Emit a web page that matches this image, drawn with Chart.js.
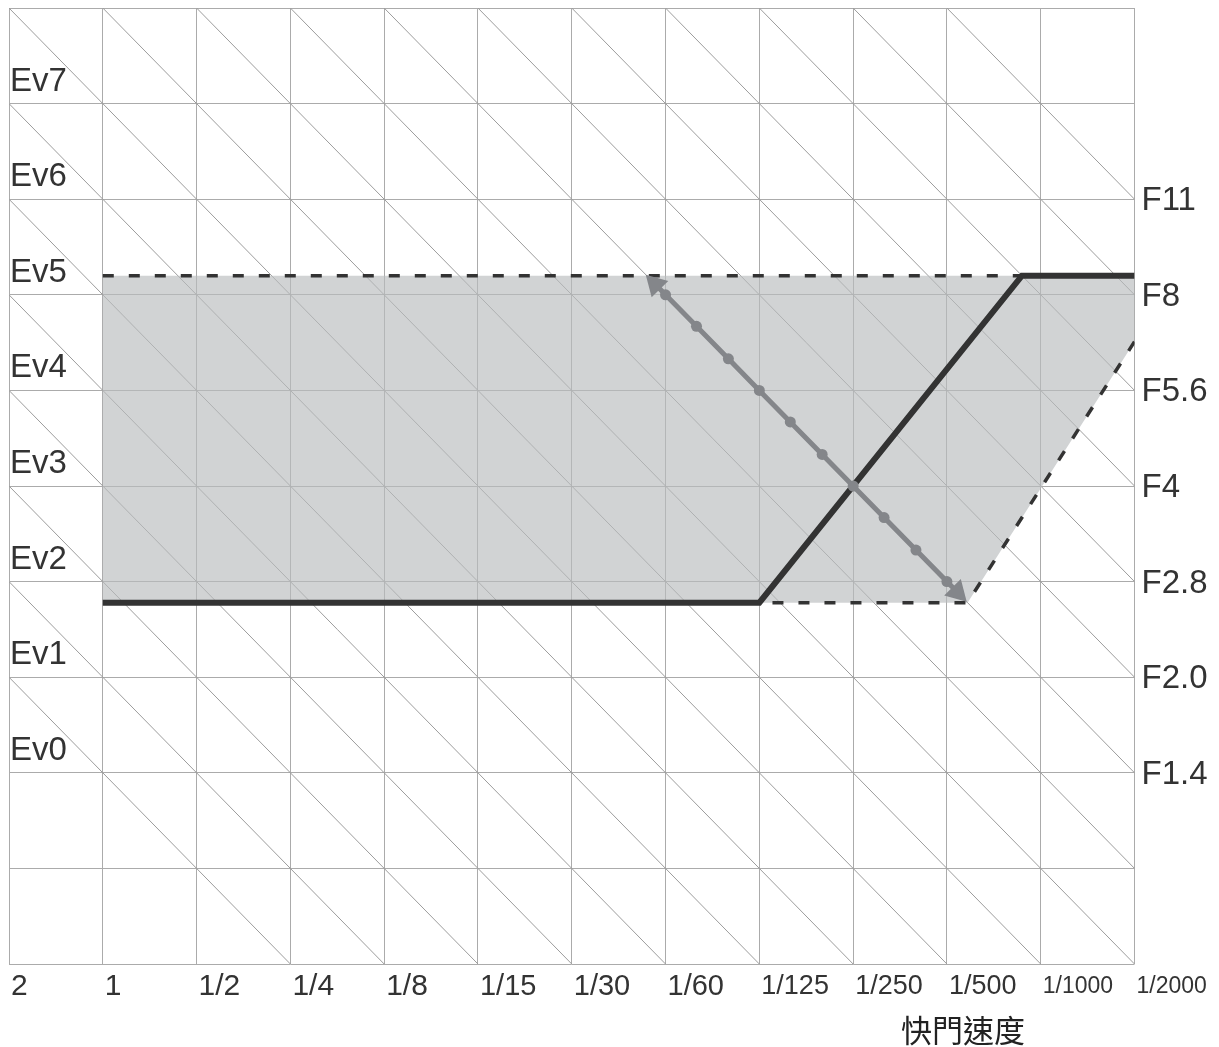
<!DOCTYPE html>
<html>
<head>
<meta charset="utf-8">
<script src="https://cdn.jsdelivr.net/npm/chart.js@4/dist/chart.umd.min.js"></script>
<style>
  html, body { margin: 0; padding: 0; background: #ffffff; }
  #wrap { width: 1219px; height: 1047px; }
</style>
</head>
<body>
<div id="wrap"><canvas id="c" width="1219" height="1047"></canvas></div>
<script>
// ---------- data ----------
const shutterLabels = ['2', '1', '1/2', '1/4', '1/8', '1/15', '1/30', '1/60', '1/125', '1/250', '1/500', '1/1000', '1/2000'];
const evLevels = [0, 1, 2, 3, 4, 5, 6, 7];
const evLabels = ['Ev0', 'Ev1', 'Ev2', 'Ev3', 'Ev4', 'Ev5', 'Ev6', 'Ev7'];
const fLevels = [0, 1, 2, 3, 4, 5, 6];
const fLabels = ['F1.4', 'F2.0', 'F2.8', 'F4', 'F5.6', 'F8', 'F11'];
const gridLevels = [-2, -1, 0, 1, 2, 3, 4, 5, 6, 7, 8];
const axisTitle = '快門速度';

// program line (solid)
const programX = [1, 8, 10.8, 12];
const programY = [1.78, 1.78, 5.2, 5.2];
// usable range (shaded)
const rangeX = [1, 12, 12, 10.22, 1];
const rangeY = [5.2, 5.2, 4.51, 1.78, 1.78];
// dashed limits
const limitTopX = [1, 10.8];
const limitTopY = [5.2, 5.2];
const limitLowX = [8.14, 10.22, 12];
const limitLowY = [1.78, 1.78, 4.51];
// equal-exposure arrow (1/3 stop dots)
const arrowX = [6.89, 7, 7.33, 7.67, 8, 8.33, 8.67, 9, 9.33, 9.67, 10, 10.11];
const arrowY = [5.11, 5, 4.67, 4.33, 4, 3.67, 3.33, 3, 2.67, 2.33, 2, 1.89];
// equal-exposure diagonals: x + y = const
const diagonalSums = [1, 2, 3, 4, 5, 6, 7, 8, 9, 10, 11, 12, 13, 14, 15, 16, 17, 18];

const X_MIN = 0, X_MAX = 12, Y_MIN = -2, Y_MAX = 8;

// ---------- helpers ----------
const toPts = (xs, ys) => xs.map((x, i) => ({ x: x, y: ys[i] }));
const diagonalPoints = [];
diagonalSums.forEach(s => {
  const x0 = Math.max(X_MIN, s - Y_MAX);
  const x1 = Math.min(X_MAX, s - Y_MIN);
  diagonalPoints.push({ x: x0, y: s - x0 }, { x: x1, y: s - x1 }, { x: x1, y: null });
});

const FONT = "'Liberation Sans', Arial, sans-serif";
const TEXT = '#333333';
const GRID = '#ababab';
const DARK = '#333333';
const ARROW = '#84868a';

function shutterFontSize(label) {
  const n = (label || '').length;
  if (n <= 3) return 30;
  if (n === 4) return 29;
  if (n === 5) return 27;
  return 23;
}

const lastArrow = arrowX.length - 1;

const axisTitlePlugin = {
  id: 'axisTitle',
  afterDraw(chart) {
    const ctx = chart.ctx;
    ctx.save();
    ctx.font = '31px "Noto Sans CJK TC", "Noto Sans CJK SC", sans-serif';
    ctx.fillStyle = '#222222';
    ctx.textAlign = 'center';
    ctx.textBaseline = 'middle';
    ctx.fillText(axisTitle, 963, 1030);
    ctx.restore();
  }
};

new Chart(document.getElementById('c'), {
  type: 'line',
  data: {
    datasets: [
      {
        label: 'arrow',
        data: toPts(arrowX, arrowY),
        borderColor: ARROW,
        borderWidth: 5,
        pointStyle: arrowX.map((_, i) => (i === 0 || i === lastArrow) ? 'triangle' : 'circle'),
        pointRadius: arrowX.map((_, i) => (i === 0 || i === lastArrow) ? 13.5 : 5.5),
        pointHoverRadius: arrowX.map((_, i) => (i === 0 || i === lastArrow) ? 13.5 : 5.5),
        pointRotation: arrowX.map((_, i) => i === 0 ? -44.6 : (i === lastArrow ? 135.4 : 0)),
        pointBackgroundColor: ARROW,
        pointBorderWidth: 0,
        order: 1
      },
      {
        label: 'program',
        data: toPts(programX, programY),
        borderColor: DARK,
        borderWidth: 6,
        borderJoinStyle: 'miter',
        pointRadius: 0,
        order: 2
      },
      {
        label: 'limitTop',
        data: toPts(limitTopX, limitTopY),
        borderColor: DARK,
        borderWidth: 3.5,
        borderDash: [11, 15],
        pointRadius: 0,
        order: 3
      },
      {
        label: 'limitLow',
        data: toPts(limitLowX, limitLowY),
        borderColor: DARK,
        borderWidth: 3.5,
        borderDash: [11, 15],
        pointRadius: 0,
        order: 3
      },
      {
        label: 'range',
        data: toPts(rangeX, rangeY),
        borderWidth: 0,
        borderColor: 'rgba(0,0,0,0)',
        backgroundColor: 'rgba(185,188,189,0.655)',
        fill: 'shape',
        pointRadius: 0,
        order: 5
      },
      {
        label: 'diagonals',
        data: diagonalPoints,
        borderColor: '#9c9c9c',
        borderWidth: 1,
        pointRadius: 0,
        spanGaps: false,
        order: 9
      }
    ]
  },
  options: {
    responsive: false,
    animation: false,
    events: [],
    layout: { autoPadding: false, padding: { left: 9, top: 8, right: 0, bottom: 0 } },
    plugins: { legend: { display: false }, tooltip: { enabled: false } },
    scales: {
      x: {
        type: 'linear',
        position: 'bottom',
        min: X_MIN,
        max: X_MAX,
        afterBuildTicks: s => { s.ticks = shutterLabels.map((_, i) => ({ value: i })); },
        afterFit: s => { s.height = 83; s.paddingLeft = 0; s.paddingRight = 0; },
        grid: { color: GRID, lineWidth: 1, drawTicks: false },
        border: { display: false },
        ticks: {
          autoSkip: false,
          maxRotation: 0,
          align: 'start',
          labelOffset: 2,
          padding: 5,
          color: TEXT,
          font: ctx => ({ family: FONT, size: shutterFontSize(ctx.tick && ctx.tick.label), lineHeight: '36px' }),
          callback: v => shutterLabels[v]
        }
      },
      y: {
        type: 'linear',
        position: 'left',
        min: Y_MIN,
        max: Y_MAX,
        afterBuildTicks: s => { s.ticks = gridLevels.map(v => ({ value: v })); },
        afterFit: s => { s.width = 0; s.paddingTop = 0; s.paddingBottom = 0; },
        grid: { color: GRID, lineWidth: 1, drawTicks: false },
        border: { display: false },
        ticks: {
          autoSkip: false,
          mirror: true,
          padding: 1,
          labelOffset: -22,
          color: TEXT,
          font: { family: FONT, size: 33, lineHeight: 0.4 },
          callback: v => { const i = evLevels.indexOf(v); return i >= 0 ? evLabels[i] : ''; }
        }
      },
      y2: {
        type: 'linear',
        position: 'right',
        min: Y_MIN,
        max: Y_MAX,
        afterBuildTicks: s => { s.ticks = fLevels.map(v => ({ value: v })); },
        afterFit: s => { s.width = 84.5; s.paddingTop = 0; s.paddingBottom = 0; },
        grid: { display: false, drawTicks: false },
        border: { display: false },
        ticks: {
          autoSkip: false,
          padding: 7,
          labelOffset: 2,
          color: TEXT,
          font: { family: FONT, size: 33, lineHeight: 0.4 },
          callback: v => { const i = fLevels.indexOf(v); return i >= 0 ? fLabels[i] : ''; }
        }
      }
    }
  },
  plugins: [axisTitlePlugin]
});
</script>
</body>
</html>
